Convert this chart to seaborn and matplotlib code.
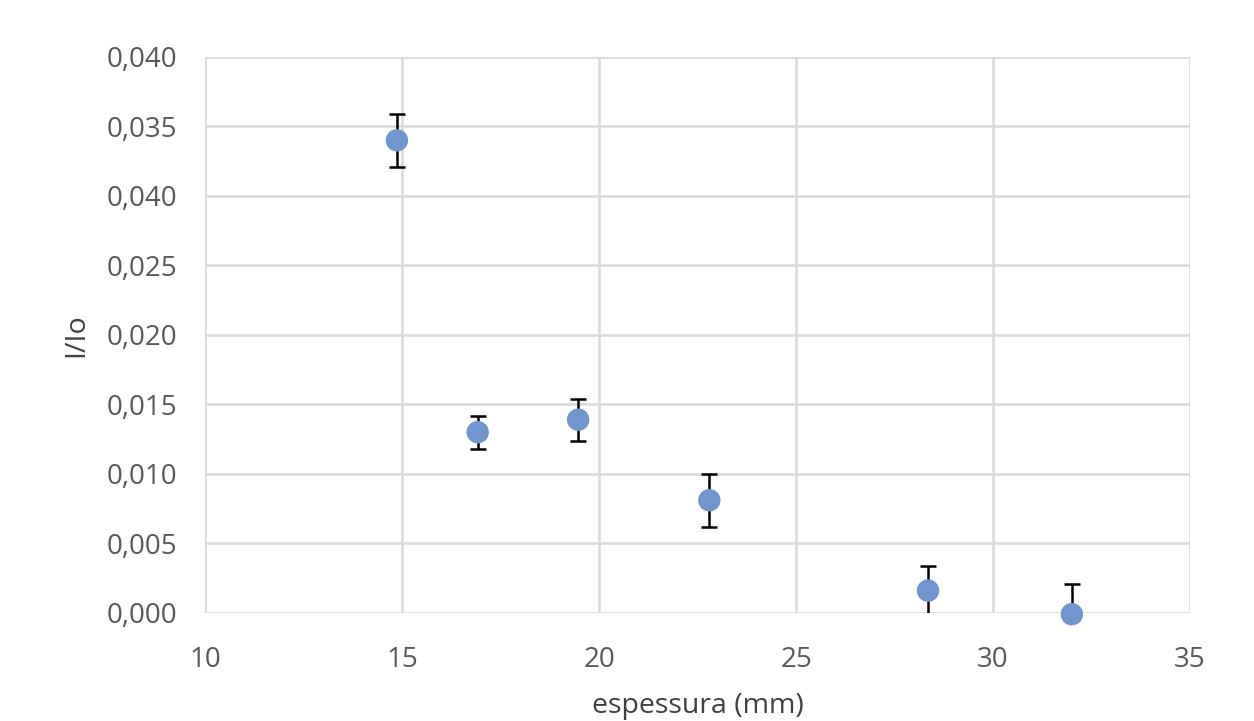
import matplotlib
matplotlib.use("Agg")
import matplotlib.pyplot as plt
import seaborn as sns
import pandas as pd

espessura = [14.87, 16.92, 19.47, 22.80, 28.35, 32.00]
intensidade = [0.0340, 0.0130, 0.0139, 0.0081, 0.0016, -0.0001]
erro = [0.0019, 0.0012, 0.0015, 0.0019, 0.0018, 0.0022]
x_ticks = [10, 15, 20, 25, 30, 35]
y_ticks = [0.000, 0.005, 0.010, 0.015, 0.020, 0.025, 0.030, 0.035, 0.040]
y_tick_labels = ["0,000", "0,005", "0,010", "0,015", "0,020", "0,025", "0,040", "0,035", "0,040"]

df = pd.DataFrame({"espessura": espessura, "I": intensidade, "err": erro})

sns.set_theme(style="white")
plt.rcParams["font.family"] = ["Open Sans", "DejaVu Sans"]

fig = plt.figure(figsize=(12.54, 7.21), dpi=100)
ax = fig.add_axes([0.1635, 0.150, 0.7855, 0.771])

ax.errorbar(df["espessura"], df["I"], yerr=df["err"], fmt="none",
            ecolor="black", elinewidth=1.8, capsize=5.5, capthick=1.8, zorder=2)
sns.scatterplot(data=df, x="espessura", y="I", ax=ax, s=260, color="#7096CF",
                edgecolor="none", zorder=3, clip_on=False)

ax.set_xlim(10, 35)
ax.set_ylim(0, 0.040)
ax.set_xticks(x_ticks)
ax.set_xticklabels([str(t) for t in x_ticks])
ax.set_yticks(y_ticks)
ax.set_yticklabels(y_tick_labels)
ax.grid(True, color="#d9d9d9", linewidth=1.8)
ax.set_axisbelow(True)
for s in ax.spines.values():
    s.set_visible(False)
ax.tick_params(axis="both", length=0, labelsize=20, labelcolor="#595959")
ax.tick_params(axis="x", pad=24)
ax.tick_params(axis="y", pad=20)
ax.set_xlabel("espessura (mm)", fontsize=20.5, color="#404040", labelpad=13)
ax.set_ylabel("I/Io", fontsize=20.5, color="#404040", labelpad=12)

fig.savefig("out.png", dpi=100)
